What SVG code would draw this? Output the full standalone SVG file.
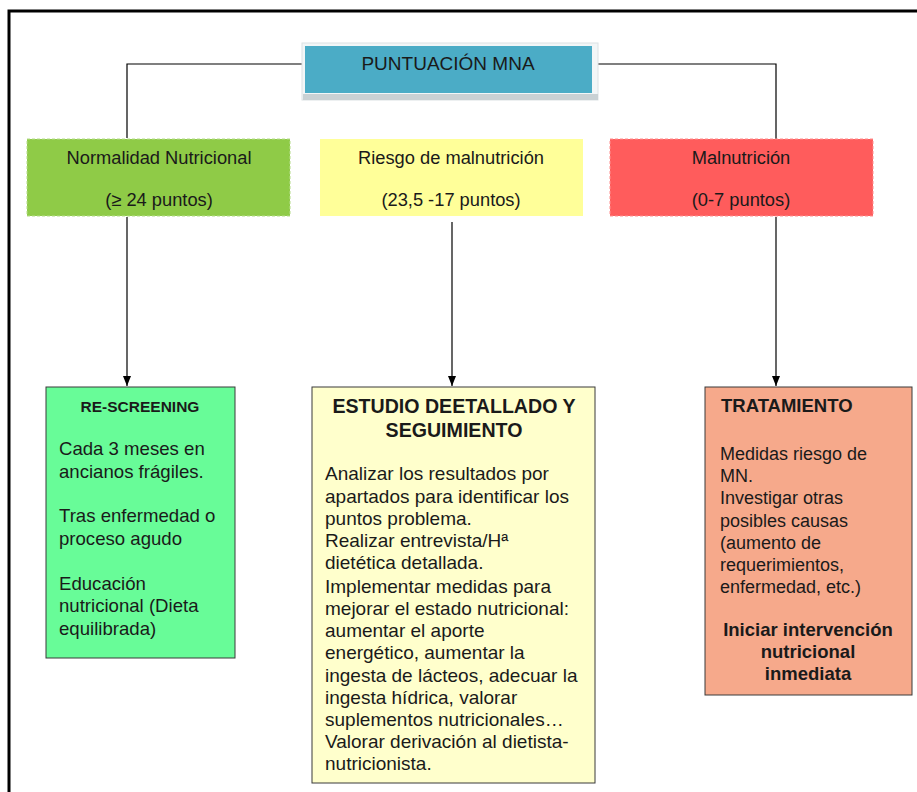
<svg xmlns="http://www.w3.org/2000/svg" width="917" height="792" viewBox="0 0 917 792">
<style>
text{font-family:"Liberation Sans",Arial,sans-serif;fill:#1a1a1a}
.h{font-size:18.3px;text-anchor:middle}
.b{font-size:18.6px}
.y{font-size:19px}
.s{font-size:18px}
.bb{font-size:18.5px;font-weight:bold}
.c{text-anchor:middle}
.ln{stroke:#000;stroke-width:1.2;fill:none}
.box{stroke:#3a3a3a;stroke-width:1}
</style>
<defs>
<marker id="ah" viewBox="0 0 10 10" refX="10" refY="5" markerWidth="10" markerHeight="10" markerUnits="userSpaceOnUse" orient="auto">
<path d="M0,1 L10,5 L0,9 Z" fill="#000"/>
</marker>
</defs>
<rect width="917" height="792" fill="#fff"/>
<g id="frame">
<path d="M9,792 V11 H917" fill="none" stroke="#000" stroke-width="3"/>
</g>
<g id="connectors">
<path class="ln" d="M303,64 H127 V138"/>
<path class="ln" d="M598,64 H776 V139"/>
<path class="ln" d="M127,217 V386" marker-end="url(#ah)"/>
<path class="ln" d="M452,222 V386" marker-end="url(#ah)"/>
<path class="ln" d="M776,217 V386" marker-end="url(#ah)"/>
</g>
<g id="title">
<rect x="302" y="43" width="296" height="57" fill="#F2F6F7" stroke="#DCE2E4"/>
<rect x="303" y="94" width="295" height="6" fill="#C9D1D4"/>
<rect x="305" y="46" width="287" height="47" fill="#4BACC6"/>
<text x="448" y="70" font-size="19" class="c">PUNTUACIÓN MNA</text>
</g>
<g id="normal">
<rect x="27" y="139" width="263" height="77" fill="#8FCB47" stroke="#B5DC8A" stroke-dasharray="3,2"/>
<text class="h" x="159" y="164">Normalidad Nutricional</text>
<text class="h" x="159" y="206">(≥ 24 puntos)</text>
</g>
<g id="riesgo">
<rect x="320" y="139" width="263" height="77" fill="#FFFF99"/>
<text class="h" x="451" y="164">Riesgo de malnutrición</text>
<text class="h" x="451" y="206">(23,5 -17 puntos)</text>
</g>
<g id="malnutricion">
<rect x="610" y="139" width="263" height="77" fill="#FF5C5C" stroke="#FF8F8F" stroke-dasharray="3,2"/>
<text class="h" x="741" y="164">Malnutrición</text>
<text class="h" x="741" y="206">(0-7 puntos)</text>
</g>
<g id="rescreening">
<rect class="box" x="46" y="387" width="189" height="271" fill="#68FC98"/>
<text x="140" y="412" font-size="15.5" font-weight="bold" class="c">RE-SCREENING</text>
<text class="b" x="59" y="455">Cada 3 meses en</text>
<text class="b" x="59" y="478">ancianos frágiles.</text>
<text class="b" x="59" y="522">Tras enfermedad o</text>
<text class="b" x="59" y="545">proceso agudo</text>
<text class="b" x="59" y="590">Educación</text>
<text class="b" x="59" y="612">nutricional (Dieta</text>
<text class="b" x="59" y="635">equilibrada)</text>
</g>
<g id="estudio">
<rect class="box" x="312" y="387" width="283" height="396" fill="#FFFFCC"/>
<text class="c" font-weight="bold" font-size="19.6" x="454" y="413">ESTUDIO DEETALLADO Y</text>
<text class="c" font-weight="bold" font-size="19.6" x="454" y="437">SEGUIMIENTO</text>
<text class="y" x="325" y="480">Analizar los resultados por</text>
<text class="y" x="325" y="503">apartados para identificar los</text>
<text class="y" x="325" y="525">puntos problema.</text>
<text class="y" x="325" y="547">Realizar entrevista/Hª</text>
<text class="y" x="325" y="569">dietética detallada.</text>
<text class="y" x="325" y="593">Implementar medidas para</text>
<text class="y" x="325" y="615">mejorar el estado nutricional:</text>
<text class="y" x="325" y="637">aumentar el aporte</text>
<text class="y" x="325" y="659">energético, aumentar la</text>
<text class="y" x="325" y="682">ingesta de lácteos, adecuar la</text>
<text class="y" x="325" y="704">ingesta hídrica, valorar</text>
<text class="y" x="325" y="726">suplementos nutricionales…</text>
<text class="y" x="325" y="748">Valorar derivación al dietista-</text>
<text class="y" x="325" y="770">nutricionista.</text>
</g>
<g id="tratamiento">
<rect class="box" x="705" y="387" width="207" height="308" fill="#F6A98B"/>
<text class="bb" x="721" y="412">TRATAMIENTO</text>
<text class="s" x="720" y="460">Medidas riesgo de</text>
<text class="s" x="720" y="482">MN.</text>
<text class="s" x="720" y="504">Investigar otras</text>
<text class="s" x="720" y="527">posibles causas</text>
<text class="s" x="720" y="549">(aumento de</text>
<text class="s" x="720" y="571">requerimientos,</text>
<text class="s" x="720" y="593">enfermedad, etc.)</text>
<text class="bb c" x="808" y="636">Iniciar intervención</text>
<text class="bb c" x="808" y="658">nutricional</text>
<text class="bb c" x="808" y="680">inmediata</text>
</g>
</svg>
